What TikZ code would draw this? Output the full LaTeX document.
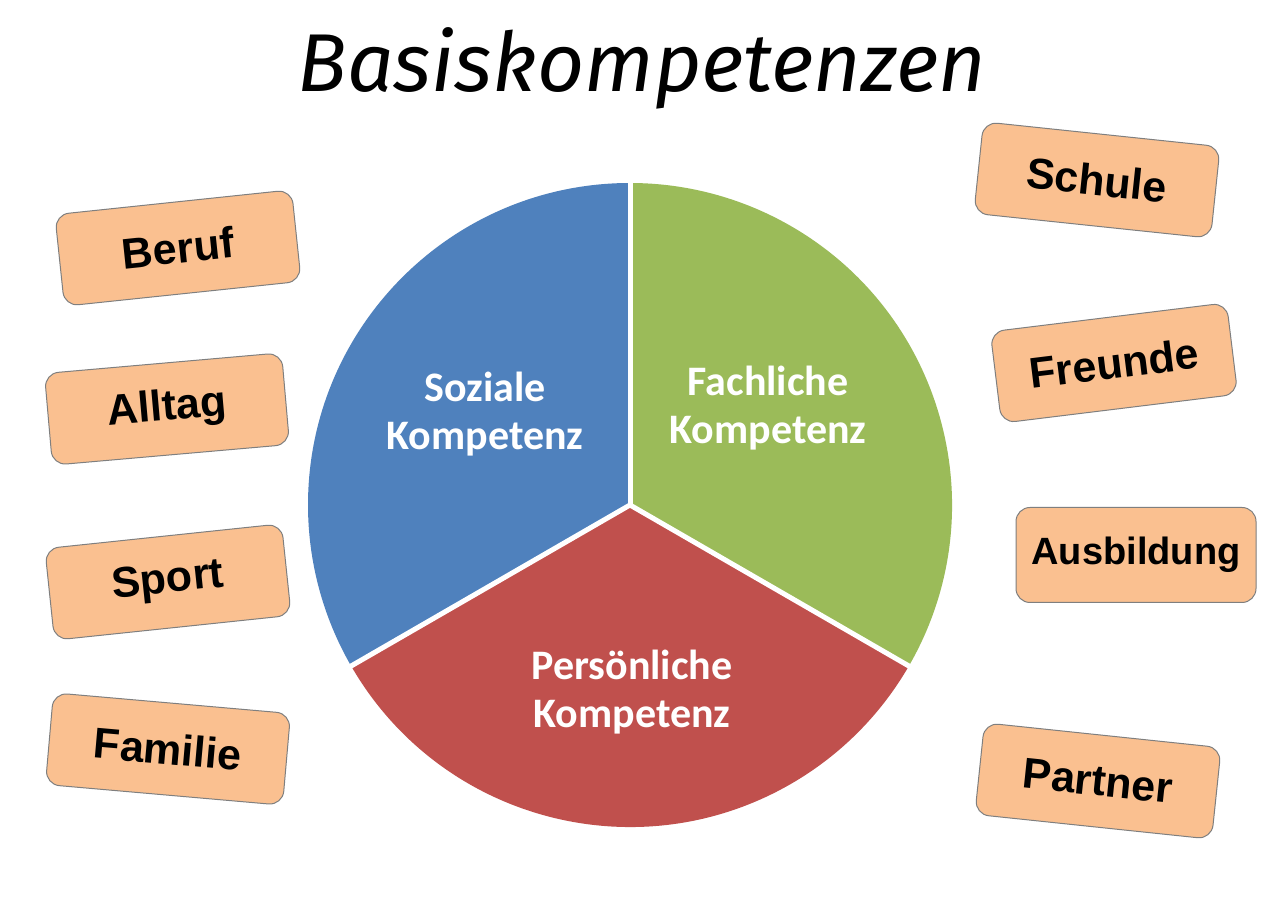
\documentclass[tikz,border=0pt]{standalone}
\usepackage{fontspec}
\usetikzlibrary{calc}
\setmainfont{Liberation Sans}
\newfontfamily\titlefont{Fira Sans}
\newfontfamily\segfont{Carlito}
\definecolor{segblue}{HTML}{4F81BD}
\definecolor{seggreen}{HTML}{9BBB59}
\definecolor{segred}{HTML}{C0504D}
\definecolor{boxfill}{HTML}{FAC090}
\definecolor{boxline}{HTML}{7F7F7F}
\begin{document}
\begin{tikzpicture}[x=1pt,y=1pt,
  tagbox/.style={draw=boxline, line width=1pt, fill=boxfill, rounded corners=14pt,
    minimum width=238pt, minimum height=92pt, inner sep=0pt,
    font=\fontsize{43}{45}\selectfont\bfseries},
  seglabel/.style={text=white, align=center, font=\segfont\fontsize{42}{48}\selectfont\bfseries},
  sep/.style={draw=white, line width=5pt}]
\useasboundingbox (0,0) rectangle (1280,904);
\fill[white] (0,0) rectangle (1280,904);
% title
\node (title) at (642,836) {\titlefont\itshape\fontsize{82}{90}\selectfont Basiskompetenzen};
% pie
\coordinate (c) at (630,399);
\fill[segblue] (c) -- ++(90:322pt) arc[start angle=90, end angle=210, radius=322pt] -- cycle;
\fill[segred] (c) -- ++(210:322pt) arc[start angle=210, end angle=330, radius=322pt] -- cycle;
\fill[seggreen] (c) -- ++(330:322pt) arc[start angle=330, end angle=450, radius=322pt] -- cycle;
\coordinate (e1) at ($(c)+(90:324pt)$);
\coordinate (e2) at ($(c)+(210:324pt)$);
\coordinate (e3) at ($(c)+(330:324pt)$);
\draw[sep] (c) -- (e1);
\draw[sep] (c) -- (e2);
\draw[sep] (c) -- (e3);
\node[seglabel] (soz) at (485,490) {Soziale\\Kompetenz};
\node[seglabel] (fach) at (768,496) {Fachliche\\Kompetenz};
\node[seglabel] (pers) at (632,212) {Persönliche\\Kompetenz};
% boxes left
\node[tagbox, rotate=6] (beruf) at (178,656) {Beruf};
\node[tagbox, rotate=5] (alltag) at (167,495) {Alltag};
\node[tagbox, rotate=6] (sport) at (168,322) {Sport};
\node[tagbox, rotate=-5] (familie) at (168,155) {Familie};
% boxes right
\node[tagbox, rotate=-6] (schule) at (1097,724) {Schule};
\node[tagbox, rotate=7] (freunde) at (1114,541) {Freunde};
\node[tagbox, minimum width=240pt, minimum height=95pt, font=\fontsize{38}{40}\selectfont\bfseries] (ausb) at (1136,349) {Ausbildung};
\node[tagbox, rotate=-6] (partner) at (1098,123) {Partner};
\end{tikzpicture}
\end{document}
